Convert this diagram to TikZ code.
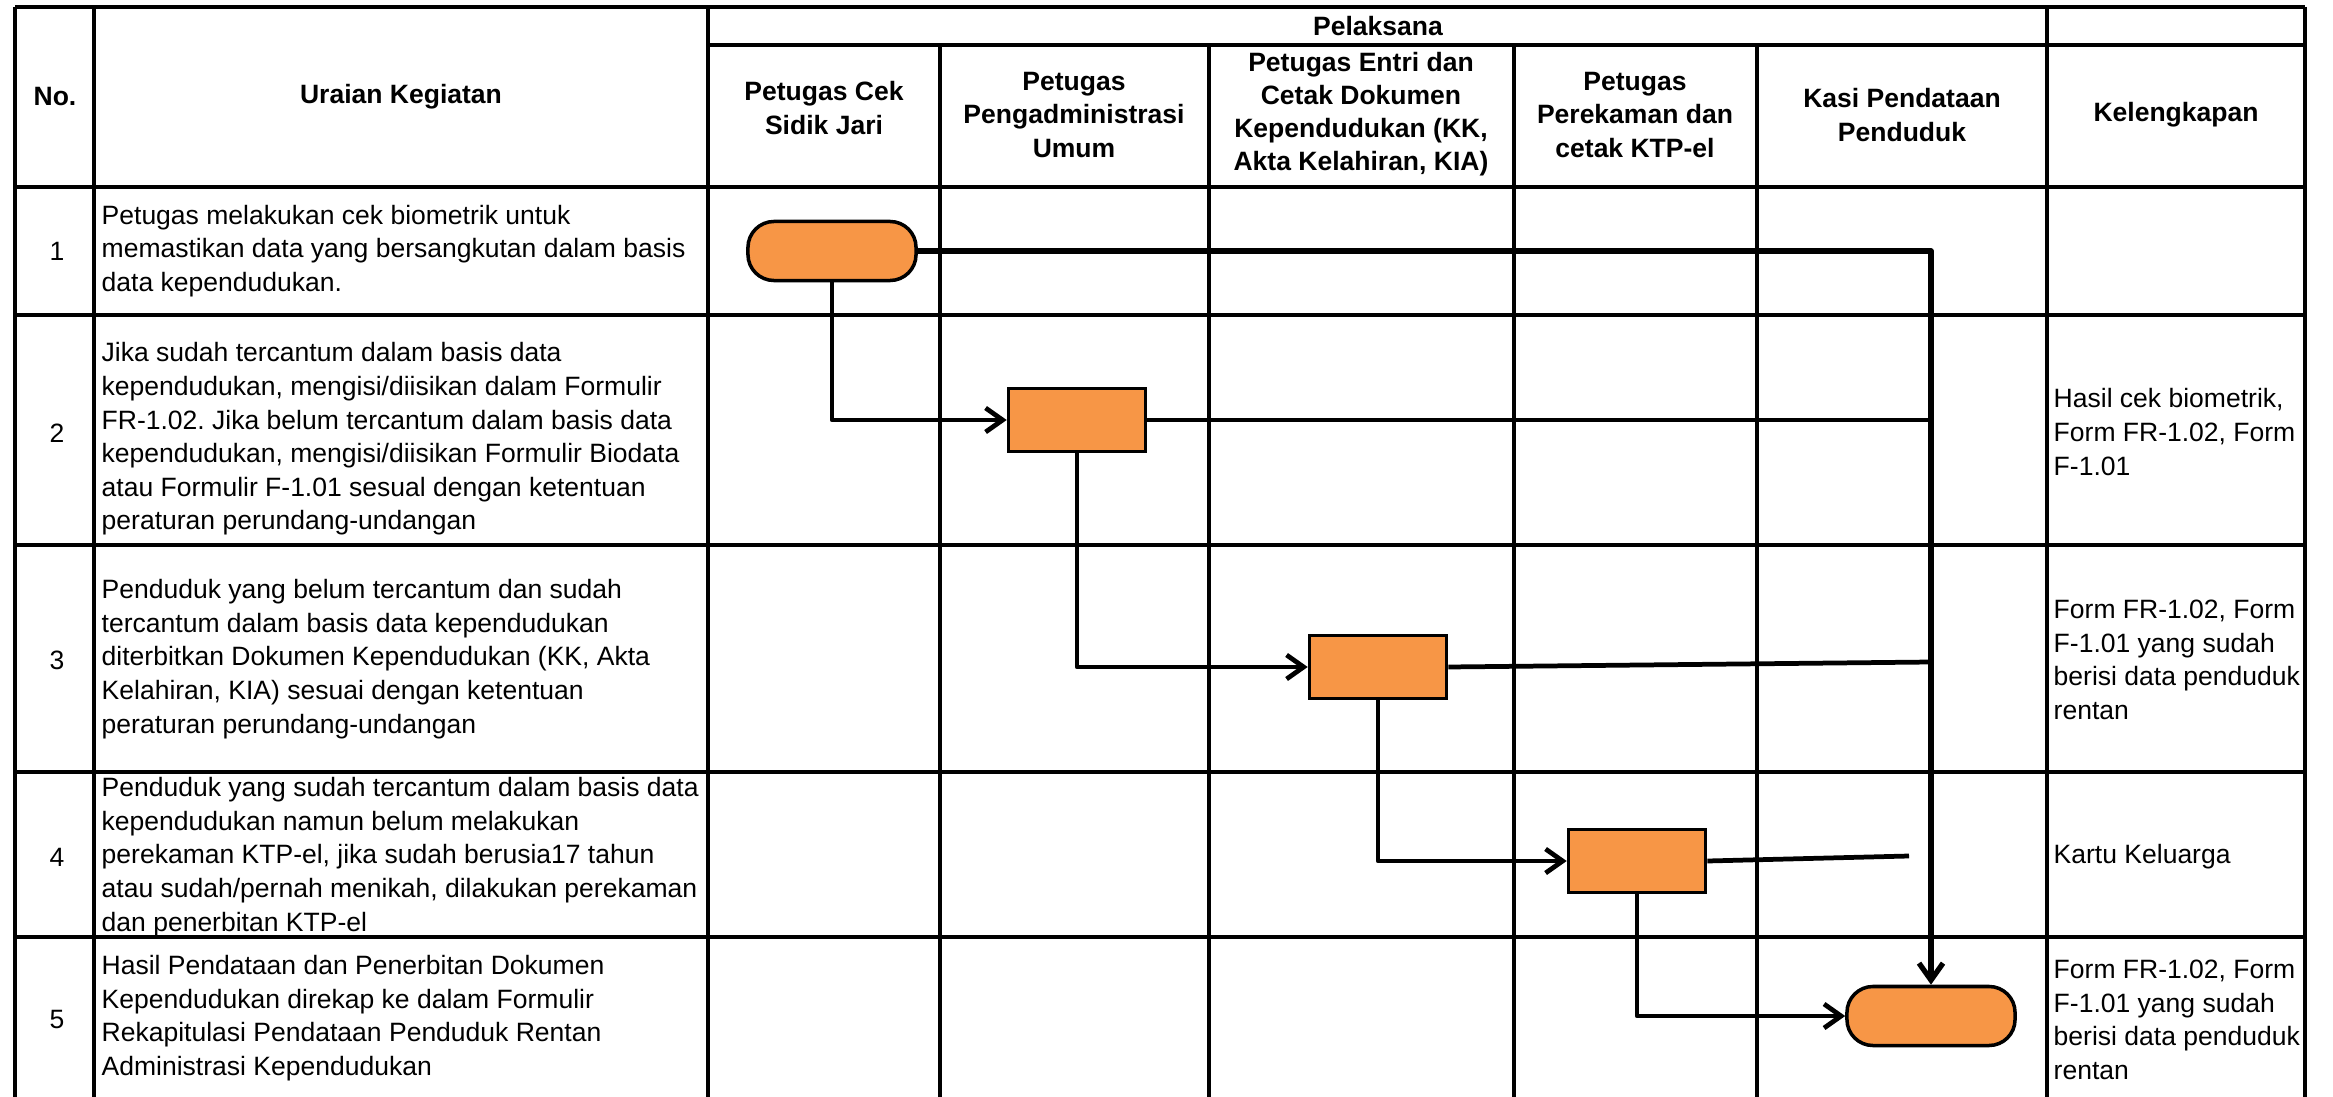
\documentclass[tikz,border=0pt]{standalone}
\usepackage{fontspec}
\setmainfont{Liberation Sans}
\usetikzlibrary{arrows.meta}
\definecolor{boxorange}{RGB}{247,150,70}
\frenchspacing
\begin{document}
\begin{tikzpicture}[x=0.01cm,y=-0.01cm,
  grid/.style={line width=0.9pt},
  outer/.style={line width=1.1pt},
  txt/.style={font=\fontsize{7.54}{9.56}\selectfont, inner sep=0pt, align=left, anchor=west},
  hdr/.style={font=\bfseries\fontsize{7.54}{9.4}\selectfont, inner sep=0pt, align=center},
  num/.style={font=\fontsize{7.54}{9.56}\selectfont, inner sep=0pt},
  proc/.style={draw, fill=boxorange, line width=1pt, minimum width=1.37cm, minimum height=0.63cm, inner sep=0pt},
  term/.style={draw, fill=boxorange, line width=1pt, minimum width=1.68cm, minimum height=0.59cm, rounded corners=0.26cm, inner sep=0pt},
  flow/.style={line width=1.35pt, line join=round},
  arr/.style={flow, -{Straight Barb[length=1.7mm,width=2.4mm]}}
]
\useasboundingbox (0,0) rectangle (2333,1097);
% table grid
\draw[outer] (15,7) -- (2305,7);
\draw[grid] (708,45) -- (2305,45);
\foreach \y in {187,315,545,772,937} \draw[grid] (15,\y) -- (2305,\y);
\foreach \x in {15,2305} \draw[outer] (\x,7) -- (\x,1097);
\foreach \x in {94,708,2047} \draw[grid] (\x,7) -- (\x,1097);
\foreach \x in {940,1209,1514,1757} \draw[grid] (\x,45) -- (\x,1097);
% headers
\node[hdr] (hno) at (55,97) {No.};
\node[hdr] (hur) at (401,97) {Uraian Kegiatan};
\node[hdr] (hpel) at (1378,26) {Pelaksana};
\node[hdr] (hc1) at (824,108) {Petugas Cek\\Sidik Jari};
\node[hdr] (hc2) at (1074,115) {Petugas\\Pengadministrasi\\Umum};
\node[hdr] (hc3) at (1361,114) {Petugas Entri dan\\Cetak Dokumen\\Kependudukan (KK,\\Akta Kelahiran, KIA)};
\node[hdr] (hc4) at (1635,115) {Petugas\\Perekaman dan\\cetak KTP-el};
\node[hdr] (hc5) at (1902,115) {Kasi Pendataan\\Penduduk};
\node[hdr] (hkel) at (2176,115) {Kelengkapan};
% numbers
\node[num] (n1) at (57,251) {1};
\node[num] (n2) at (57,433) {2};
\node[num] (n3) at (57,660) {3};
\node[num] (n4) at (57,857) {4};
\node[num] (n5) at (57,1019) {5};
% descriptions
\node[txt] (d1) at (101,251) {Petugas melakukan cek biometrik untuk\\memastikan data yang bersangkutan dalam basis\\data kependudukan.};
\node[txt] (d2) at (101,439) {Jika sudah tercantum dalam basis data\\kependudukan, mengisi/diisikan dalam Formulir\\FR-1.02. Jika belum tercantum dalam basis data\\kependudukan, mengisi/diisikan Formulir Biodata\\atau Formulir F-1.01 sesual dengan ketentuan\\peraturan perundang-undangan};
\node[txt] (d3) at (101,659) {Penduduk yang belum tercantum dan sudah\\tercantum dalam basis data kependudukan\\diterbitkan Dokumen Kependudukan (KK, Akta\\Kelahiran, KIA) sesuai dengan ketentuan\\peraturan perundang-undangan};
\node[txt] (d4) at (101,857) {Penduduk yang sudah tercantum dalam basis data\\kependudukan namun belum melakukan\\perekaman KTP-el, jika sudah berusia17 tahun\\atau sudah/pernah menikah, dilakukan perekaman\\dan penerbitan KTP-el};
\node[txt] (d5) at (101,1018) {Hasil Pendataan dan Penerbitan Dokumen\\Kependudukan direkap ke dalam Formulir\\Rekapitulasi Pendataan Penduduk Rentan\\Administrasi Kependudukan};
% kelengkapan
\node[txt] (k2) at (2053,432) {Hasil cek biometrik,\\Form FR-1.02, Form\\F-1.01};
\node[txt] (k3) at (2053,660) {Form FR-1.02, Form\\F-1.01 yang sudah\\berisi data penduduk\\rentan};
\node[txt] (k4) at (2053,857) {Kartu Keluarga};
\node[txt] (k5) at (2053,1020) {Form FR-1.02, Form\\F-1.01 yang sudah\\berisi data penduduk\\rentan};
% flow shapes
\node[term] (t1) at (832,251) {};
\node[proc] (b2) at (1077,420) {};
\node[proc] (b3) at (1378,667) {};
\node[proc] (b4) at (1637,861) {};
\node[term] (t5) at (1931,1016) {};
\coordinate (j3) at (1931,662);
\coordinate (j4) at (1909,856);
% connectors
\draw[arr, line width=1.5pt] (t1.east) -| (t5.north);
\draw[flow] (b2.east) -- (b2.east -| t5.north);
\draw[flow] (b3.east) -- (j3);
\draw[flow] (b4.east) -- (j4);
\draw[arr] (t1.south) |- (b2.west);
\draw[arr] (b2.south) |- (b3.west);
\draw[arr] (b3.south) |- (b4.west);
\draw[arr] (b4.south) |- (t5.west);
\end{tikzpicture}
\end{document}
